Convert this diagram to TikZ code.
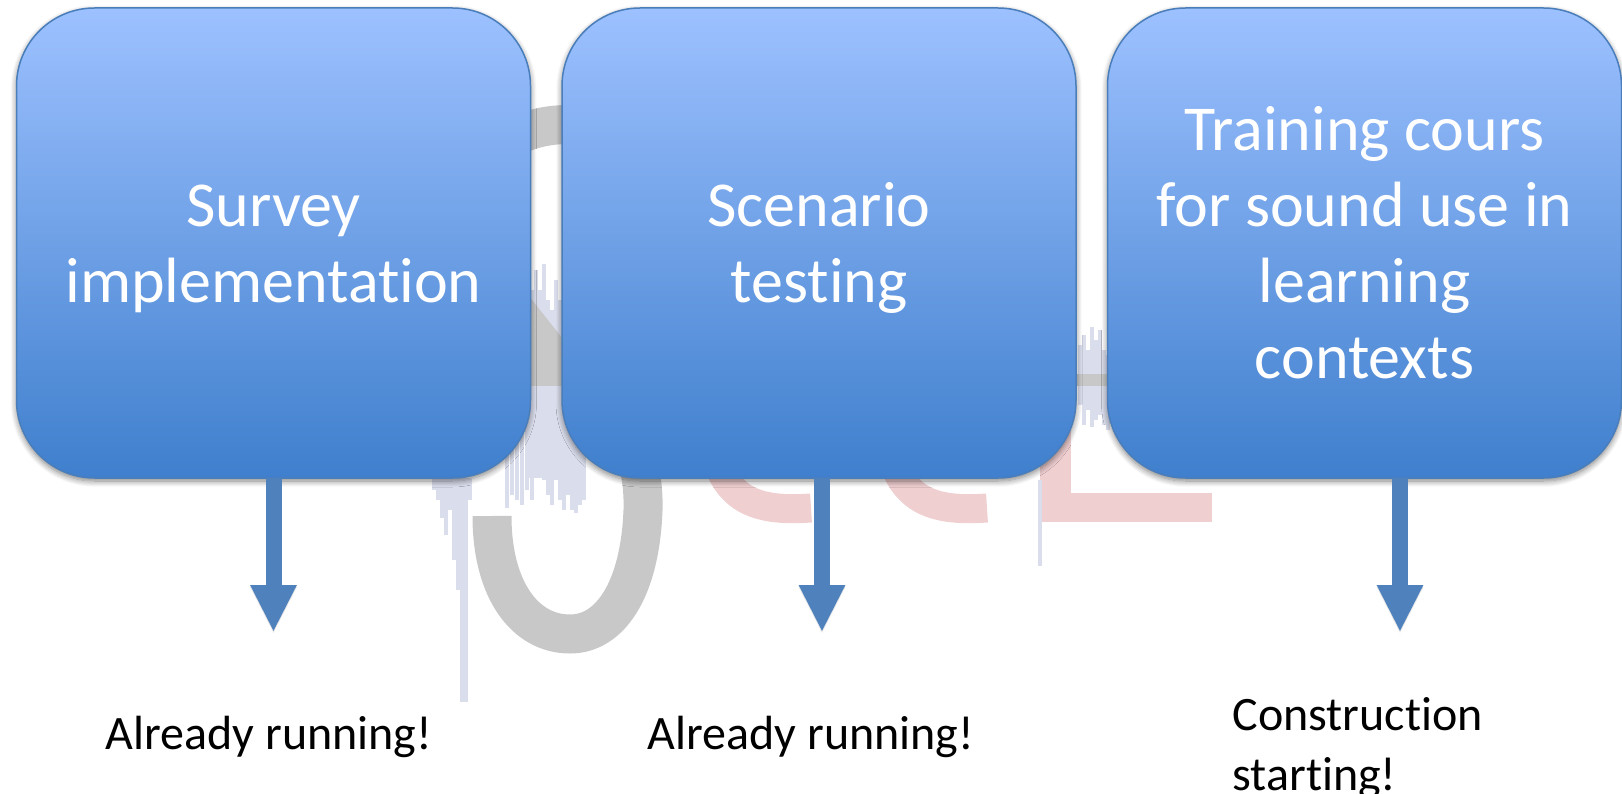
\documentclass[tikz,border=0pt]{standalone}
\usepackage{fontspec}
\setmainfont[RawFeature=-liga]{Carlito}
\usetikzlibrary{shadows,shadows.blur,positioning,calc,arrows.meta}
\definecolor{boxtop}{HTML}{9DC1FF}
\definecolor{boxbot}{HTML}{3F7FCD}
\definecolor{boxline}{HTML}{4A7EBB}
\definecolor{flowblue}{HTML}{4F81BD}
\definecolor{markgray}{HTML}{C8C8C8}
\definecolor{markpink}{HTML}{F0CFD1}
\definecolor{marklav}{HTML}{DADDEC}
\newcommand{\lowerline}{\rule{0pt}{54pt}}
\tikzset{
    stagebox/.style={draw=boxline, line width=1.5pt, top color=boxtop, bottom color=boxbot,
        rounded corners=78pt, minimum width=514pt, minimum height=470pt, outer sep=0pt,
        text=white, align=center, font=\fontsize{64}{76}\selectfont,
        blur shadow={shadow xshift=0pt, shadow yshift=-3pt, shadow blur steps=8,
            shadow blur radius=6pt, shadow opacity=50}},
    flowarrow/.style={draw=flowblue, line width=16pt,
        -{Triangle[length=47pt, width=43pt]},
        preaction={draw=black, opacity=0.1, transform canvas={yshift=-2pt}}},
    statetext/.style={text=black, align=left, font=\fontsize{48}{60}\selectfont}
}

\begin{document}
\begin{tikzpicture}[x=1pt, y=1pt]
    \useasboundingbox (0,0) rectangle (1622,-794);
    % waveform above the S
    \foreach \x/\a in {530/290, 534/270, 538/290, 542/264, 546/300, 550/310, 554/280, 558/300} {
        \fill [marklav] (\x,-\a) rectangle (\x+3.5,-380);
    }
    % logo behind the boxes
    \fill [markpink] (1040,-350) rectangle (1071,-522);
    \fill [markpink] (1040,-493) rectangle (1212,-522);
    \draw [markpink, line width=29pt] (811,-508) .. controls (755,-512) and (722,-500) .. (712,-440);
    \draw [markpink, line width=29pt] (987,-508) .. controls (931,-512) and (898,-500) .. (888,-440);
    \draw [markgray, line width=39pt] (640,-150) .. controls (590,-112) and (520,-115) .. (470,-170)
        .. controls (430,-240) and (480,-310) .. (545,-350)
        .. controls (610,-395) and (645,-440) .. (643,-510)
        .. controls (640,-590) and (610,-634) .. (570,-634)
        .. controls (525,-634) and (492,-590) .. (492,-516);
    \fill [markgray] (525,-291) -- (570,-348) -- (570,-386) -- (525,-386) -- cycle;
    % waveform over the S
    \fill [marklav] (525,-386) rectangle (570,-478);
    \foreach \x/\a/\b in {
        432/478/490, 436/478/500, 440/478/518, 444/478/535, 448/478/510, 452/478/560, 456/478/590,
        460/478/702, 464/478/702, 468/478/500, 505/440/508, 510/430/495, 515/420/500, 520/400/505,
        525/400/490, 530/386/500, 534/386/470, 538/386/455, 542/386/480, 546/386/495, 550/386/505,
        554/386/480, 558/386/500, 562/386/510, 566/400/495, 570/400/510, 574/420/513, 578/430/505,
        582/440/500, 1078/345/405, 1082/335/425, 1086/350/410, 1090/327/427, 1094/340/420,
        1098/330/415, 1102/350/425, 1106/355/430, 1038/480/566} {
        \fill [marklav] (\x,-\a) rectangle (\x+3.5,-\b);
    }
    \fill [markgray] (1070,-374) rectangle (1112,-386);
    % stages
    \node [stagebox, anchor=north west] (survey) at (16.5,-8) {\lowerline Survey\\implementation};
    \node [stagebox, right=31.5pt of survey] (scenario) {\lowerline Scenario\\testing};
    \node [stagebox, right=31.5pt of scenario] (training) {Training cours\\for sound use in\\learning\\contexts};
    % status texts
    \node [statetext] (statea) at (269,-737) {Already running!};
    \node [statetext] (stateb) at (811,-737) {Already running!};
    \node [statetext, anchor=west] (statec) at (1229,-748) {Construction\\starting!};
    % arrows
    \coordinate (tipa) at (273.5,-632);
    \coordinate (tipb) at (822,-632);
    \coordinate (tipc) at (1400,-632);
    \draw [flowarrow] (survey.south -| tipa) -- (tipa);
    \draw [flowarrow] (scenario.south -| tipb) -- (tipb);
    \draw [flowarrow] (training.south -| tipc) -- (tipc);
\end{tikzpicture}
\end{document}
